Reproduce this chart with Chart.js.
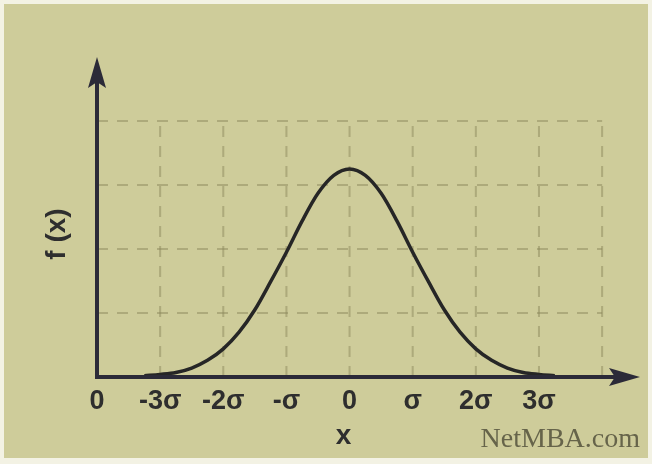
<!DOCTYPE html>
<html>
<head>
<meta charset="utf-8">
<script src="https://cdn.jsdelivr.net/npm/chart.js@4"></script>
<style>
  html, body { margin: 0; padding: 0; background: #fff; }
</style>
</head>
<body>
<canvas id="chart" width="652" height="464"></canvas>
<script>
// x in units of sigma, f(x) in grid units
const xValues = [-3.25, -3, -2.75, -2.5, -2.25, -2, -1.75, -1.5, -1.25, -1, -0.75, -0.5, -0.25, 0,
                 0.25, 0.5, 0.75, 1, 1.25, 1.5, 1.75, 2, 2.25, 2.5, 2.75, 3, 3.25];
const fValues = [0.02, 0.04, 0.07, 0.14, 0.26, 0.44, 0.70, 1.05, 1.49, 1.95, 2.44, 2.87, 3.15, 3.25,
                 3.15, 2.87, 2.44, 1.95, 1.49, 1.05, 0.70, 0.44, 0.26, 0.14, 0.07, 0.04, 0.02];
const tickValues = [-4, -3, -2, -1, 0, 1, 2, 3];
const tickLabels = ['0', '-3σ', '-2σ', '-σ', '0', 'σ', '2σ', '3σ'];
const gridX = [-3, -2, -1, 0, 1, 2, 3, 4];
const gridY = [1, 2, 3, 4];

const axisColor = '#2b2a38';
const textColor = '#2e2e2e';

function seg(c, x1, y1, x2, y2) {
    c.beginPath();
    c.moveTo(x1, y1);
    c.lineTo(x2, y2);
    c.stroke();
}

const decor = {
    id: 'decor',
    beforeDraw(chart) {
        const c = chart.ctx;
        c.save();
        c.fillStyle = '#f3f2e4';
        c.fillRect(0, 0, chart.width, chart.height);
        c.fillStyle = '#cecc9a';
        c.fillRect(4, 4, chart.width - 8, chart.height - 10);
        c.restore();
    },
    beforeDatasetsDraw(chart) {
        const { ctx: c, scales: { x, y } } = chart;
        c.save();
        c.strokeStyle = 'rgba(140,136,92,0.5)';
        c.lineWidth = 2;
        c.setLineDash([11, 9]);
        gridX.forEach(v => {
            const px = x.getPixelForValue(v);
            seg(c, px, y.getPixelForValue(0), px, y.getPixelForValue(4));
        });
        gridY.forEach(v => {
            const py = y.getPixelForValue(v);
            seg(c, x.getPixelForValue(-4), py, x.getPixelForValue(4), py);
        });
        c.restore();
    },
    afterDatasetsDraw(chart) {
        const { ctx: c, scales: { x, y } } = chart;
        const x0 = x.getPixelForValue(-4), y0 = y.getPixelForValue(0);
        const xEnd = x.getPixelForValue(4.6), yEnd = y.getPixelForValue(5);
        c.save();
        c.strokeStyle = axisColor;
        c.fillStyle = axisColor;
        c.lineWidth = 4;
        c.lineCap = 'butt';
        seg(c, x0, y0 + 2, x0, yEnd + 20);
        seg(c, x0 - 2, y0, xEnd - 20, y0);
        // arrow heads
        c.beginPath();
        c.moveTo(x0, yEnd);
        c.lineTo(x0 - 9, yEnd + 31);
        c.lineTo(x0, yEnd + 25);
        c.lineTo(x0 + 9, yEnd + 31);
        c.closePath();
        c.fill();
        c.beginPath();
        c.moveTo(xEnd, y0);
        c.lineTo(xEnd - 31, y0 - 9);
        c.lineTo(xEnd - 25, y0);
        c.lineTo(xEnd - 31, y0 + 9);
        c.closePath();
        c.fill();

        // axis titles
        c.fillStyle = textColor;
        c.textAlign = 'center';
        c.textBaseline = 'middle';
        c.font = 'bold 28px "Liberation Sans", Arial, sans-serif';
        c.fillText('x', x.getPixelForValue(0) - 6, 436);
        c.save();
        c.translate(57, 234);
        c.rotate(-Math.PI / 2);
        c.fillText('f (x)', 0, 0);
        c.restore();

        // watermark
        c.fillStyle = '#66644a';
        c.textAlign = 'right';
        c.textBaseline = 'alphabetic';
        c.font = '28px "Liberation Serif", "Times New Roman", serif';
        c.fillText('NetMBA.com', chart.width - 12, 447);
        c.restore();
    }
};

new Chart(document.getElementById('chart'), {
    type: 'line',
    data: {
        datasets: [{
            label: 'f(x)',
            data: xValues.map((v, i) => ({ x: v, y: fValues[i] })),
            borderColor: '#262626',
            borderWidth: 3.5,
            pointRadius: 0,
            fill: false,
            tension: 0.4,
            cubicInterpolationMode: 'monotone'
        }]
    },
    options: {
        responsive: false,
        animation: false,
        devicePixelRatio: 1,
        layout: { padding: { left: 97, right: 12, top: 57, bottom: 0 } },
        plugins: {
            legend: { display: false },
            tooltip: { enabled: false }
        },
        scales: {
            x: {
                type: 'linear',
                min: -4,
                max: 4.6,
                grid: { display: false, drawTicks: false },
                border: { display: false },
                afterBuildTicks: s => { s.ticks = tickValues.map(v => ({ value: v })); },
                afterFit: s => { s.height = 87; },
                ticks: {
                    autoSkip: false,
                    maxRotation: 0,
                    padding: 8,
                    color: textColor,
                    font: { family: '"Liberation Sans", Arial, sans-serif', size: 27, weight: 'bold' },
                    callback: v => {
                        const i = tickValues.indexOf(v);
                        return i >= 0 ? tickLabels[i] : '';
                    }
                }
            },
            y: {
                display: false,
                min: 0,
                max: 5
            }
        }
    },
    plugins: [decor]
});
</script>
</body>
</html>
